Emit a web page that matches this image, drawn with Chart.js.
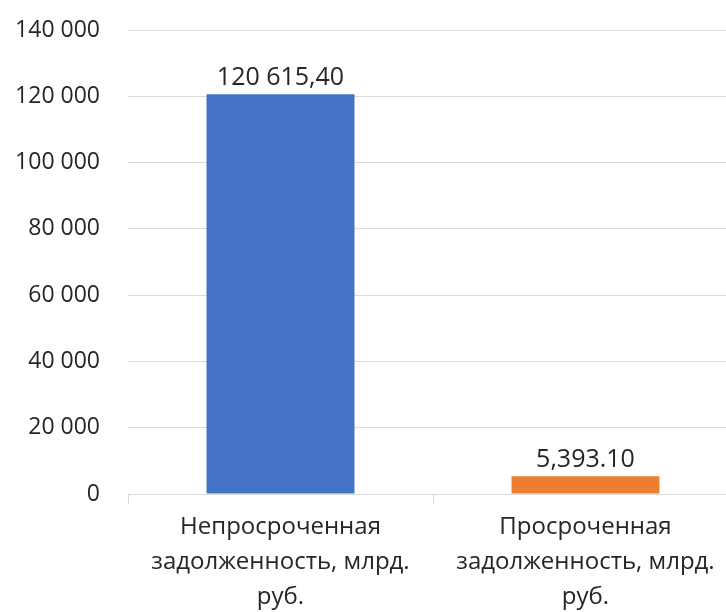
<!DOCTYPE html>
<html>
<head>
<meta charset="utf-8">
<script src="https://cdn.jsdelivr.net/npm/chart.js@4"></script>
<style>
  html, body { margin: 0; padding: 0; background: #fff; overflow: hidden; }
  #wrap { width: 726px; height: 612px; overflow: hidden; }
  #box { width: 742px; height: 612px; }
</style>
</head>
<body>
<div id="wrap"><div id="box"><canvas id="chart"></canvas></div></div>
<script>
const categories = [
  ['Непросроченная', 'задолженность, млрд.', 'руб.'],
  ['Просроченная', 'задолженность, млрд.', 'руб.']
];
const values = [120615.40, 5393.10];
const valueLabels = ['120 615,40', '5,393.10'];
const barColors = ['#4472C4', '#ED7D31'];

const FONT = '"Open Sans", "Noto Sans", sans-serif';
const TEXT = '#262626';

// value labels above the bars
const barLabels = {
  id: 'barLabels',
  afterDatasetsDraw(chart) {
    const ctx = chart.ctx;
    const meta = chart.getDatasetMeta(0);
    ctx.save();
    ctx.font = '25px ' + FONT;
    ctx.fillStyle = TEXT;
    ctx.textAlign = 'center';
    ctx.textBaseline = 'alphabetic';
    meta.data.forEach((bar, i) => {
      ctx.fillText(valueLabels[i], bar.x, bar.y - 9);
    });
    ctx.restore();
  }
};

new Chart(document.getElementById('chart'), {
  type: 'bar',
  data: {
    labels: categories,
    datasets: [{
      data: values,
      backgroundColor: barColors,
      categoryPercentage: 1,
      barPercentage: 0.485
    }]
  },
  options: {
    responsive: true,
    maintainAspectRatio: false,
    animation: false,
    layout: { padding: { top: 30, right: 4, left: 0, bottom: 0 } },
    plugins: { legend: { display: false }, tooltip: { enabled: false } },
    scales: {
      x: {
        afterFit: s => { s.height = 118; },
        border: { color: '#d9d9d9' },
        grid: { drawOnChartArea: false, drawTicks: true, tickLength: 10, color: '#d9d9d9' },
        ticks: { color: TEXT, font: { family: FONT, size: 24, lineHeight: 1.45 }, padding: 6, maxRotation: 0 }
      },
      y: {
        min: 0,
        max: 140000,
        afterFit: s => { s.width = 128; s.paddingTop = 0; s.paddingBottom = 0; },
        border: { display: false },
        grid: { color: '#d9d9d9', drawTicks: false },
        ticks: {
          stepSize: 20000,
          color: TEXT,
          font: { family: FONT, size: 23 },
          padding: 28,
          callback: v => v === 0 ? '0' : String(v).replace(/\B(?=(\d{3})+(?!\d))/g, ' ')
        }
      }
    }
  },
  plugins: [barLabels]
});
</script>
</body>
</html>
